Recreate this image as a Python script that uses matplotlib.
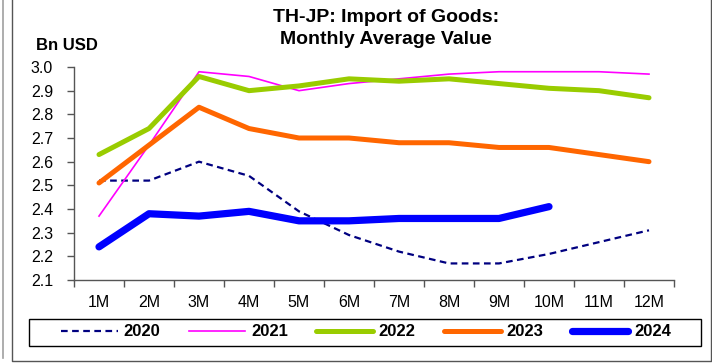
import matplotlib
matplotlib.use('Agg')
import matplotlib.pyplot as plt
from matplotlib.lines import Line2D
from matplotlib.patches import Rectangle

plt.rcParams['font.family'] = ['Liberation Sans', 'DejaVu Sans']

months = ['1M', '2M', '3M', '4M', '5M', '6M', '7M', '8M', '9M', '10M', '11M', '12M']
y2020 = [2.52, 2.52, 2.60, 2.54, 2.39, 2.29, 2.22, 2.17, 2.17, 2.21, 2.26, 2.31]
y2021 = [2.37, 2.67, 2.98, 2.96, 2.90, 2.93, 2.95, 2.97, 2.98, 2.98, 2.98, 2.97]
y2022 = [2.63, 2.74, 2.96, 2.90, 2.92, 2.95, 2.94, 2.95, 2.93, 2.91, 2.90, 2.87]
y2023 = [2.51, 2.67, 2.83, 2.74, 2.70, 2.70, 2.68, 2.68, 2.66, 2.66, 2.63, 2.60]
y2024 = [2.24, 2.38, 2.37, 2.39, 2.35, 2.35, 2.36, 2.36, 2.36, 2.41]
yticks = [2.1, 2.2, 2.3, 2.4, 2.5, 2.6, 2.7, 2.8, 2.9, 3.0]

W, H = 712, 364
fig = plt.figure(figsize=(W / 100, H / 100), dpi=100)
fig.patch.set_facecolor('white')

# outer frames
fig.add_artist(Line2D([3 / W, 3 / W], [1, 1 - 358 / H], color='#a0a0a0', lw=1.2))
fig.add_artist(Line2D([11.5 / W, 11.5 / W, 710.5 / W, 710.5 / W],
                      [1, 1 - 360.5 / H, 1 - 360.5 / H, 1],
                      color='#555555', lw=1.0))

ax = fig.add_axes([74 / W, (H - 280) / H, 600 / W, 213 / H])
x = list(range(len(months)))

ax.plot(x, y2020, color='#000080', lw=1.6, ls=(0, (3, 2)), label='2020')
ax.plot(x, y2021, color='#FF00FF', lw=1.2, label='2021')
ax.plot(x, y2022, color='#99CC00', lw=3.6, label='2022', solid_capstyle='round')
ax.plot(x, y2023, color='#FF6600', lw=3.6, label='2023', solid_capstyle='round')
ax.plot(x[:len(y2024)], y2024, color='#0000FF', lw=5.2, label='2024',
        solid_capstyle='round')

ax.set_xlim(-0.5, len(months) - 0.5)
ax.set_ylim(2.1, 3.0)
ax.set_yticks(yticks)
ax.set_yticklabels([f'{v:.1f}' for v in yticks])
ax.set_xticks([i - 0.5 for i in range(len(months) + 1)])
ax.set_xticklabels([])
ax.set_xticks(x, minor=True)
ax.set_xticklabels(months, minor=True)
ax.tick_params(axis='x', which='major', length=5, width=1, color='#555555', direction='out')
ax.tick_params(axis='x', which='minor', length=0, pad=11, labelsize=11.5)
ax.tick_params(axis='y', length=5, width=1, color='#555555', direction='out',
               pad=10, labelsize=11.5)

for s in ['top', 'right']:
    ax.spines[s].set_visible(False)
for s in ['left', 'bottom']:
    ax.spines[s].set_color('#555555')
    ax.spines[s].set_linewidth(1.0)

fig.text(386 / W, 1 - 9 / H, 'TH-JP: Import of Goods:\nMonthly Average Value',
         ha='center', va='top', fontsize=14, fontweight='bold', linespacing=1.4)
fig.text(36 / W, 1 - 45 / H, 'Bn USD', ha='left', va='center',
         fontsize=12, fontweight='bold')

# legend box spans the chart width
fig.add_artist(Rectangle((28.5 / W, 1 - 345.5 / H), 672 / W, 27 / H,
                         fill=False, edgecolor='black', lw=1.0))
handles, labels = ax.get_legend_handles_labels()
leg = fig.legend(handles, labels, loc='center', ncol=5,
                 bbox_to_anchor=(366 / W, 1 - 332 / H),
                 prop={'weight': 'bold', 'size': 12},
                 handlelength=3.4, handletextpad=0.35, columnspacing=1.7,
                 frameon=False)

fig.savefig('out.png', dpi=100)
